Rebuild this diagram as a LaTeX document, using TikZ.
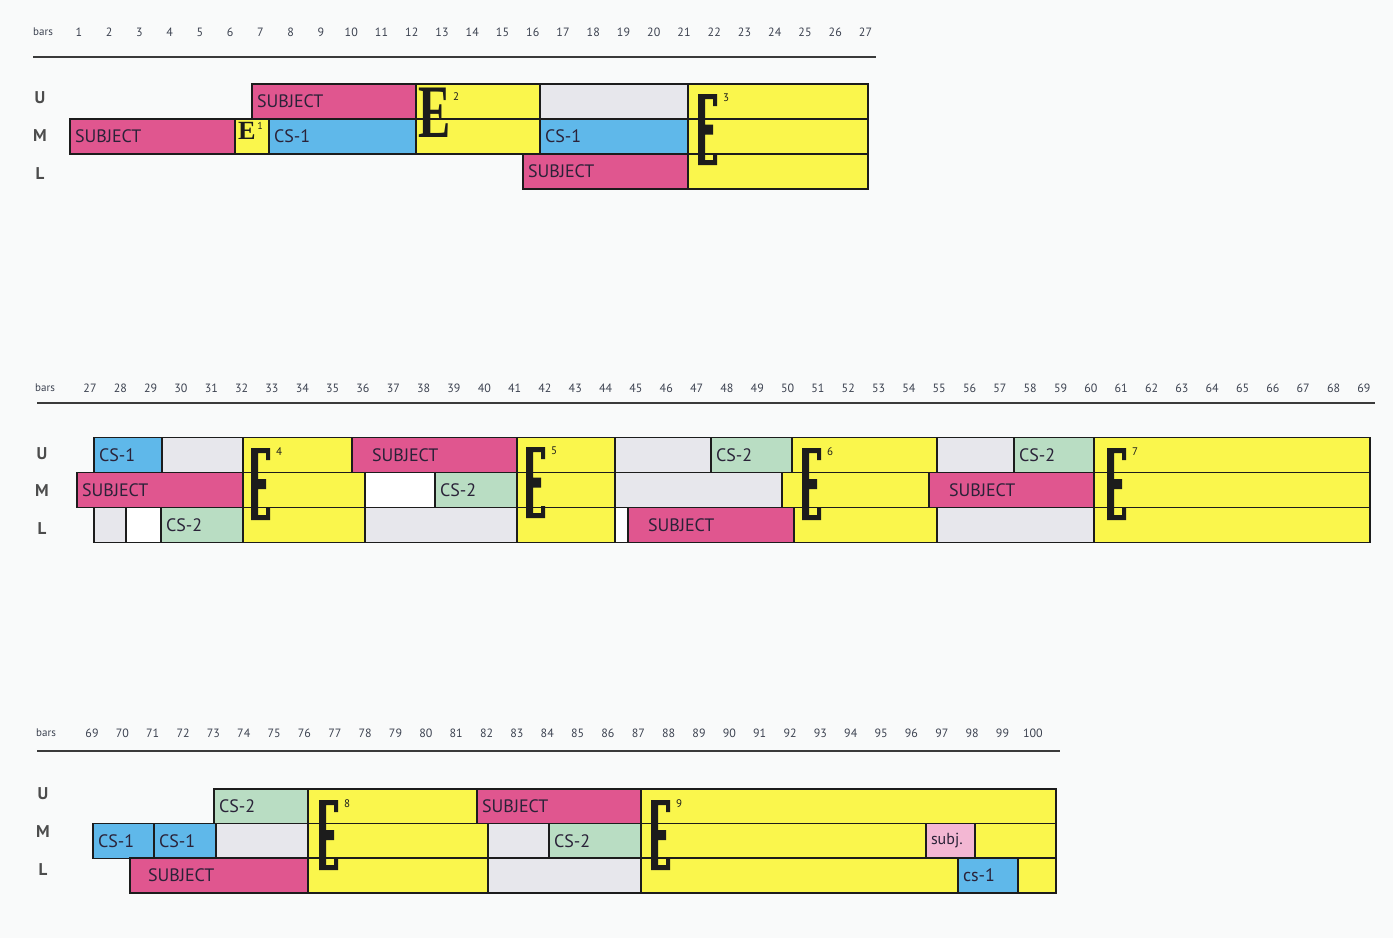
\documentclass[tikz,border=0pt]{standalone}
\usepackage{fontspec}
\usepackage{graphicx}
\setmainfont{PT Sans}
\newfontfamily\epifont{Liberation Serif}
\definecolor{chartink}{HTML}{1C1C1C}
\definecolor{rulegrey}{HTML}{3A3A3A}
\definecolor{labelink}{HTML}{2A2238}
\definecolor{tickink}{HTML}{3C4250}
\definecolor{subjectfill}{HTML}{E0568F}
\definecolor{episodefill}{HTML}{FAF64C}
\definecolor{csonefill}{HTML}{5FB8EA}
\definecolor{cstwofill}{HTML}{B9DDC3}
\definecolor{restfill}{HTML}{E7E7EC}
\definecolor{subjlightfill}{HTML}{F3B7D3}
\definecolor{paperfill}{HTML}{F9FAFA}

% one voice entry: name, style, left x, right x, row centre, text
\newcommand{\entry}[6]{%
  \node[#2,minimum width={#4-#3},text width={#4-#3-10}] (#1) at ({(#3+#4)/2},#5) {#6};}
% bracket-shaped episode mark: name, stem x, top y, bottom y, number
\newcommand{\episode}[5]{%
  \fill[chartink] (#2,#3) -- ++(19,0) -- ++(0,12) -- ++(-4,0) -- ++(0,-7) -- ++(-8,0)
    -- ({#2+7},{(#3+#4)/2-5}) -- ++(8,0) -- ++(0,10) -- ++(-8,0)
    -- ({#2+7},{#4-5}) -- ++(8,0) -- ++(0,-7) -- ++(4,0) -- ++(0,12) -- (#2,#4) -- cycle;
  \node[epinum] (#1) at ({#2+28},{#3+4}) {#5};}

\begin{document}
\begin{tikzpicture}[x=1pt,y=-1pt,
  box/.style={draw=chartink,line width=1.8pt,minimum height=35,inner xsep=5,inner ysep=0,
    align=left,text=labelink,font=\fontsize{18}{18}\selectfont},
  subject/.style={box,fill=subjectfill},
  subjlight/.style={box,fill=subjlightfill,font=\fontsize{16}{16}\selectfont},
  episode/.style={box,fill=episodefill},
  csone/.style={box,fill=csonefill},
  cstwo/.style={box,fill=cstwofill},
  rest/.style={box,fill=restfill},
  blank/.style={box,fill=white},
  tick/.style={text=tickink,font=\fontsize{12}{12}\selectfont,inner sep=0},
  barword/.style={text=tickink,font=\fontsize{11}{11}\selectfont,inner sep=0},
  voice/.style={text=black!70,font=\fontsize{17}{17}\selectfont\bfseries,inner sep=0},
  staffrule/.style={draw=rulegrey,line width=2.4pt},
  epinum/.style={text=chartink,font=\fontsize{11}{11}\selectfont,inner sep=0},
  epiletter/.style={text=chartink,inner sep=0}
]
\path[use as bounding box,fill=paperfill] (0,0) rectangle (1393,938);

% ---------------- bars 1--27 ----------------
\node[barword] (bars1) at (43,32) {bars};
\foreach \n in {1,...,27}
  \node[tick] (a\n) at ({79+(\n-1)*30.25},32) {\n};
\draw[staffrule] (33,57) -- (876,57);
\node[voice] (u1) at (40,98) {U};
\node[voice] (m1) at (40,136) {M};
\node[voice] (l1) at (40,174) {L};

\entry{s1u1}{subject}{252}{416}{101.5}{SUBJECT}
\entry{s1u2}{episode}{416}{540}{101.5}{}
\entry{s1u3}{rest}{540}{688}{101.5}{}
\entry{s1u4}{episode}{688}{868}{101.5}{}

\entry{s1m1}{subject}{70}{235}{136.5}{SUBJECT}
\entry{s1m2}{episode}{235}{269}{136.5}{}
\entry{s1m3}{csone}{269}{416}{136.5}{CS-1}
\entry{s1m4}{episode}{416}{540}{136.5}{}
\entry{s1m5}{csone}{540}{688}{136.5}{CS-1}
\entry{s1m6}{episode}{688}{868}{136.5}{}

\entry{s1l1}{subject}{523}{688}{171.5}{SUBJECT}
\entry{s1l2}{episode}{688}{868}{171.5}{}

% episodes 1--3
\node[epiletter,font=\epifont\fontsize{25}{25}\selectfont\bfseries] (epi1) at (247,131) {\scalebox{1.05}[1.05]{E}};
\node[epinum,font=\fontsize{10}{10}\selectfont] (epi1n) at (260,126) {1};
\node[epiletter,font=\epifont\fontsize{42}{42}\selectfont\bfseries] (epi2) at (435,112.5) {\scalebox{1.15}[1.8]{E}};
\node[epinum] (epi2n) at (456,97) {2};
\episode{epi3}{698}{94}{165}{3}

% ---------------- bars 27--69 ----------------
\node[barword] (bars2) at (45,388) {bars};
\foreach \n in {27,...,69}
  \node[tick] (b\n) at ({90+(\n-27)*30.33},388) {\n};
\draw[staffrule] (37,403) -- (1375,403);
\node[voice] (u2) at (42,454) {U};
\node[voice] (m2) at (42,491) {M};
\node[voice] (l2) at (42,529) {L};

\entry{s2u1}{csone}{94}{162}{455}{CS-1}
\entry{s2u2}{rest}{162}{243}{455}{}
\entry{s2u3}{episode}{243}{352}{455}{}
\entry{s2u4}{subject}{352}{517}{455}{\hspace*{15pt}SUBJECT}
\entry{s2u5}{episode}{517}{615}{455}{}
\entry{s2u6}{rest}{615}{711}{455}{}
\entry{s2u7}{cstwo}{711}{792}{455}{CS-2}
\entry{s2u8}{episode}{792}{937}{455}{}
\entry{s2u9}{rest}{937}{1014}{455}{}
\entry{s2u10}{cstwo}{1014}{1094}{455}{CS-2}
\entry{s2u11}{episode}{1094}{1370}{455}{}

\entry{s2m1}{subject}{77}{243}{490}{SUBJECT}
\entry{s2m2}{episode}{243}{365}{490}{}
\entry{s2m3}{blank}{365}{435}{490}{}
\entry{s2m4}{cstwo}{435}{517}{490}{CS-2}
\entry{s2m5}{episode}{517}{615}{490}{}
\entry{s2m6}{rest}{615}{782}{490}{}
\entry{s2m7}{episode}{782}{929}{490}{}
\entry{s2m8}{subject}{929}{1094}{490}{\hspace*{15pt}SUBJECT}
\entry{s2m9}{episode}{1094}{1370}{490}{}

\entry{s2l1}{rest}{94}{126}{525}{}
\entry{s2l2}{blank}{126}{161}{525}{}
\entry{s2l3}{cstwo}{161}{243}{525}{CS-2}
\entry{s2l4}{episode}{243}{365}{525}{}
\entry{s2l5}{rest}{365}{517}{525}{}
\entry{s2l6}{episode}{517}{615}{525}{}
\entry{s2l7}{blank}{615}{628}{525}{}
\entry{s2l8}{subject}{628}{794}{525}{\hspace*{15pt}SUBJECT}
\entry{s2l9}{episode}{794}{937}{525}{}
\entry{s2l10}{rest}{937}{1094}{525}{}
\entry{s2l11}{episode}{1094}{1370}{525}{}

% episodes 4--7
\episode{epi4}{251}{448}{520}{4}
\episode{epi5}{526}{447}{518}{5}
\episode{epi6}{802}{448}{520}{6}
\episode{epi7}{1107}{448}{520}{7}

% ---------------- bars 69--100 ----------------
\node[barword] (bars3) at (46,733) {bars};
\foreach \n in {69,...,100}
  \node[tick] (c\n) at ({92+(\n-69)*30.35},733) {\n};
\draw[staffrule] (37,751) -- (1060,751);
\node[voice] (u3) at (43,794) {U};
\node[voice] (m3) at (43,832) {M};
\node[voice] (l3) at (43,870) {L};

\entry{s3u1}{cstwo}{214}{308}{806.5}{CS-2}
\entry{s3u2}{episode}{308}{477}{806.5}{}
\entry{s3u3}{subject}{477}{641}{806.5}{SUBJECT}
\entry{s3u4}{episode}{641}{1056}{806.5}{}

\entry{s3m1}{csone}{93}{154}{841}{CS-1}
\entry{s3m2}{csone}{154}{216}{841}{CS-1}
\entry{s3m3}{rest}{216}{308}{841}{}
\entry{s3m4}{episode}{308}{488}{841}{}
\entry{s3m5}{rest}{488}{549}{841}{}
\entry{s3m6}{cstwo}{549}{641}{841}{CS-2}
\entry{s3m7}{episode}{641}{926}{841}{}
\entry{s3m8}{subjlight}{926}{975}{841}{subj.}
\entry{s3m9}{episode}{975}{1056}{841}{}

\entry{s3l1}{subject}{130}{308}{875.5}{\hspace*{13pt}SUBJECT}
\entry{s3l2}{episode}{308}{488}{875.5}{}
\entry{s3l3}{rest}{488}{641}{875.5}{}
\entry{s3l4}{episode}{641}{958}{875.5}{}
\entry{s3l5}{csone}{958}{1018}{875.5}{cs-1}
\entry{s3l6}{episode}{1018}{1056}{875.5}{}

% episodes 8--9
\episode{epi8}{319}{800}{870}{8}
\episode{epi9}{651}{800}{870}{9}

\end{tikzpicture}
\end{document}
